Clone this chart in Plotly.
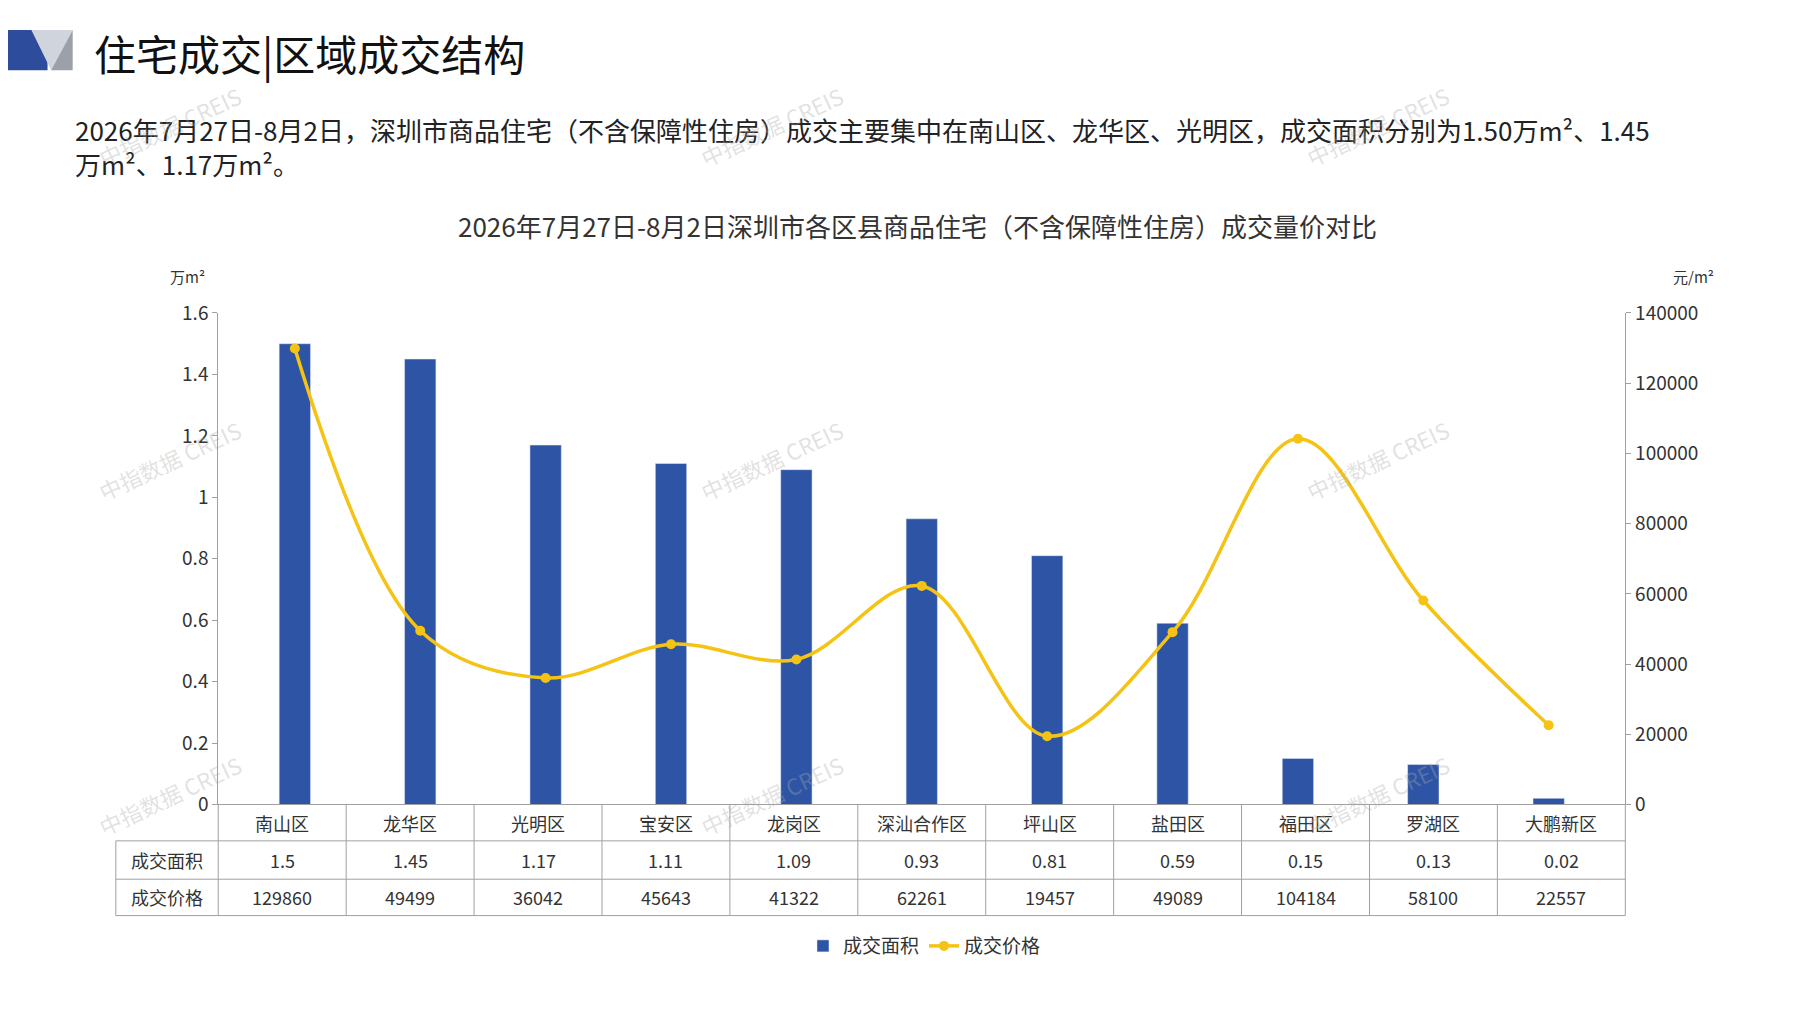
import plotly.graph_objects as go

districts = ['南山区', '龙华区', '光明区', '宝安区', '龙岗区', '深汕合作区', '坪山区', '盐田区', '福田区', '罗湖区', '大鹏新区']
area = [1.5, 1.45, 1.17, 1.11, 1.09, 0.93, 0.81, 0.59, 0.15, 0.13, 0.02]
price = [129860, 49499, 36042, 45643, 41322, 62261, 19457, 49089, 104184, 58100, 22557]
area_text = ['1.5', '1.45', '1.17', '1.11', '1.09', '0.93', '0.81', '0.59', '0.15', '0.13', '0.02']

FONT = 'Noto Sans CJK SC'
X0, X1 = 0.117, 0.9
Y0, Y1 = 0.205, 0.705
n = len(districts)
w = (X1 - X0) / n

fig = go.Figure()
fig.add_trace(go.Bar(x=districts, y=area, name='成交面积', marker_color='#2E55A5', width=0.25))
fig.add_trace(go.Scatter(x=districts, y=price, name='成交价格', yaxis='y2', mode='lines+markers',
                         line=dict(color='#F5C314', width=3.5, shape='spline', smoothing=1.0),
                         marker=dict(size=10, color='#F5C314')))


def txt(text, x, y, size, color='#333', xanchor='center', **kw):
    return dict(text=text, x=x, y=y, xref='paper', yref='paper', xanchor=xanchor, yanchor='middle',
                showarrow=False, font=dict(size=size, color=color, family=FONT), **kw)


shapes = []
ann = []
grey = '#A0A0A0'
# table grid
row_h = [Y0, 0.168, 0.129, 0.092]
tx0 = 0.060
for yy in row_h[1:]:
    shapes.append(dict(type='line', xref='paper', yref='paper', x0=tx0, x1=X1, y0=yy, y1=yy, line=dict(color=grey, width=1)))
shapes.append(dict(type='line', xref='paper', yref='paper', x0=tx0, x1=tx0, y0=row_h[1], y1=row_h[3], line=dict(color=grey, width=1)))
for i in range(n + 1):
    shapes.append(dict(type='line', xref='paper', yref='paper', x0=X0 + i * w, x1=X0 + i * w, y0=Y0, y1=row_h[3], line=dict(color=grey, width=1)))
for j, lab in enumerate(['成交面积', '成交价格']):
    ann.append(txt(lab, (tx0 + X0) / 2, (row_h[j + 1] + row_h[j + 2]) / 2, 18))
for i in range(n):
    cx = X0 + (i + 0.5) * w
    ann.append(txt(districts[i], cx, (row_h[0] + row_h[1]) / 2, 18))
    ann.append(txt(area_text[i], cx, (row_h[1] + row_h[2]) / 2, 18))
    ann.append(txt(str(price[i]), cx, (row_h[2] + row_h[3]) / 2, 18))

# header
shapes.append(dict(type='path', xref='paper', yref='paper', path='M 0,0.993 L 0.022,0.993 L 0.022,0.952 L 0,0.952 Z', fillcolor='#2E4C9C', line=dict(width=0)))
shapes.append(dict(type='path', xref='paper', yref='paper', path='M 0.013,0.993 L 0.036,0.993 L 0.024,0.952 Z', fillcolor='#D0D4DC', line=dict(width=0)))
shapes.append(dict(type='path', xref='paper', yref='paper', path='M 0.024,0.952 L 0.036,0.993 L 0.036,0.952 Z', fillcolor='#9CA0A8', line=dict(width=0)))
ann.append(txt('住宅成交|区域成交结构', 0.047, 0.970, 42, color='#111', xanchor='left'))
ann.append(txt('2026年7月27日-8月2日，深圳市商品住宅（不含保障性住房）成交主要集中在南山区、龙华区、光明区，成交面积分别为1.50万m²、1.45<br>万m²、1.17万m²。',
               0.036, 0.874, 26, color='#222', xanchor='left', align='left'))
ann.append(txt('2026年7月27日-8月2日深圳市各区县商品住宅（不含保障性住房）成交量价对比', 0.506, 0.794, 26))
ann.append(txt('万m²', 0.100, 0.742, 15))
ann.append(txt('元/m²', 0.938, 0.742, 15))
for wx, wy in [(0.09, 0.895), (0.425, 0.895), (0.762, 0.895), (0.09, 0.555), (0.425, 0.555), (0.762, 0.555), (0.09, 0.215), (0.425, 0.215), (0.762, 0.215)]:
    ann.append(txt('中指数据 CREIS', wx, wy, 22, color='rgba(170,170,170,0.35)', textangle=-25))

fig.update_layout(
    width=1797, height=1010, margin=dict(l=0, r=0, t=0, b=0),
    plot_bgcolor='white', paper_bgcolor='white', font=dict(family=FONT, size=18, color='#333'),
    xaxis=dict(domain=[X0, X1], showticklabels=False, showline=True, linecolor=grey, ticks=''),
    yaxis=dict(domain=[Y0, Y1], range=[0, 1.6], tickvals=[0, 0.2, 0.4, 0.6, 0.8, 1, 1.2, 1.4, 1.6], ticktext=['0', '0.2', '0.4', '0.6', '0.8', '1', '1.2', '1.4', '1.6'],
               showgrid=False, showline=True, linecolor=grey, ticks='outside', ticklen=5, tickcolor=grey, tickfont=dict(size=19)),
    yaxis2=dict(overlaying='y', side='right', range=[0, 140000], dtick=20000, showgrid=False, showline=True, linecolor=grey,
                ticks='outside', ticklen=5, tickcolor=grey, tickformat='d', tickfont=dict(size=19)),
    legend=dict(orientation='h', x=0.51, xanchor='center', y=0.061, yanchor='middle', font=dict(size=19)),
    shapes=shapes, annotations=ann,
)
fig.write_html('out.html')
